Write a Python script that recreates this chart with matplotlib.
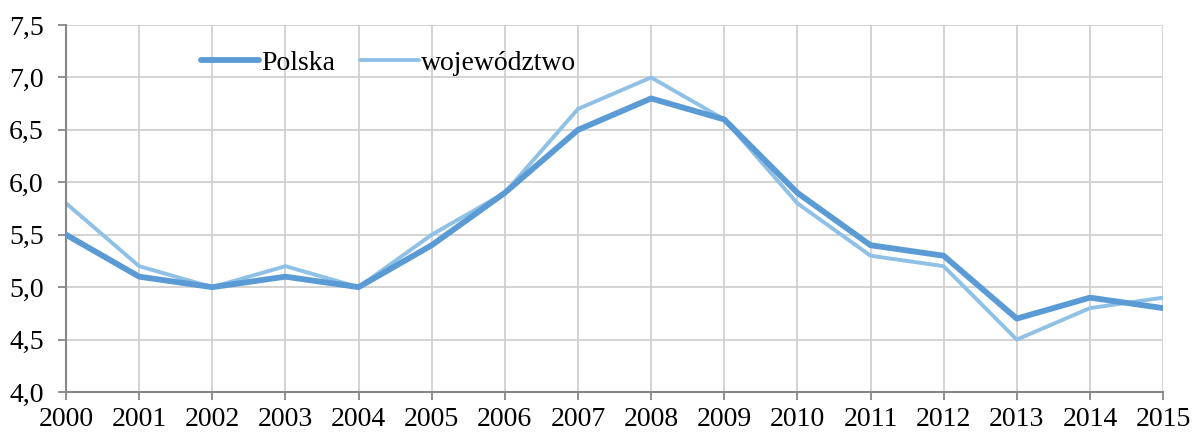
import matplotlib.pyplot as plt

plt.rcParams['font.family'] = ['Liberation Serif', 'DejaVu Serif']

years = list(range(2000, 2016))
polska = [5.5, 5.1, 5.0, 5.1, 5.0, 5.4, 5.9, 6.5, 6.8, 6.6, 5.9, 5.4, 5.3, 4.7, 4.9, 4.8]
wojewodztwo = [5.8, 5.2, 5.0, 5.2, 5.0, 5.5, 5.9, 6.7, 7.0, 6.6, 5.8, 5.3, 5.2, 4.5, 4.8, 4.9]
y_ticks = [4.0, 4.5, 5.0, 5.5, 6.0, 6.5, 7.0, 7.5]

fig = plt.figure(figsize=(11.92, 4.32), dpi=100)
ax = fig.add_axes([0.0554, 0.0926, 0.9203, 0.8494])

ax.plot(years, polska, color='#5b9bd5', lw=4.2, solid_capstyle='round', label='Polska', zorder=3)
ax.plot(years, wojewodztwo, color='#8fc0e6', lw=2.8, solid_capstyle='round', label='województwo', zorder=2)

ax.set_xlim(2000, 2015)
ax.set_ylim(4.0, 7.5)
ax.set_xticks(years)
ax.set_xticklabels([str(y) for y in years])
ax.set_yticks(y_ticks)
ax.set_yticklabels([f'{v:.1f}'.replace('.', ',') for v in y_ticks])

ax.grid(True, color='#d0d0d0', lw=1.3)
ax.set_axisbelow(True)
for s in ['top', 'right']:
    ax.spines[s].set_visible(False)
for s in ['left', 'bottom']:
    ax.spines[s].set_color('#878787')
    ax.spines[s].set_linewidth(1.5)
ax.tick_params(axis='both', colors='#878787', length=6, width=1.3, labelsize=20, labelcolor='black')
ax.tick_params(axis='x', pad=5)
ax.tick_params(axis='y', pad=10)

ax.legend(loc='upper left', bbox_to_anchor=(0.1, 1.0), ncol=2, frameon=False,
          fontsize=20, handlelength=2.1, handletextpad=0.08, columnspacing=0.9)

fig.savefig('out.png', dpi=100)
